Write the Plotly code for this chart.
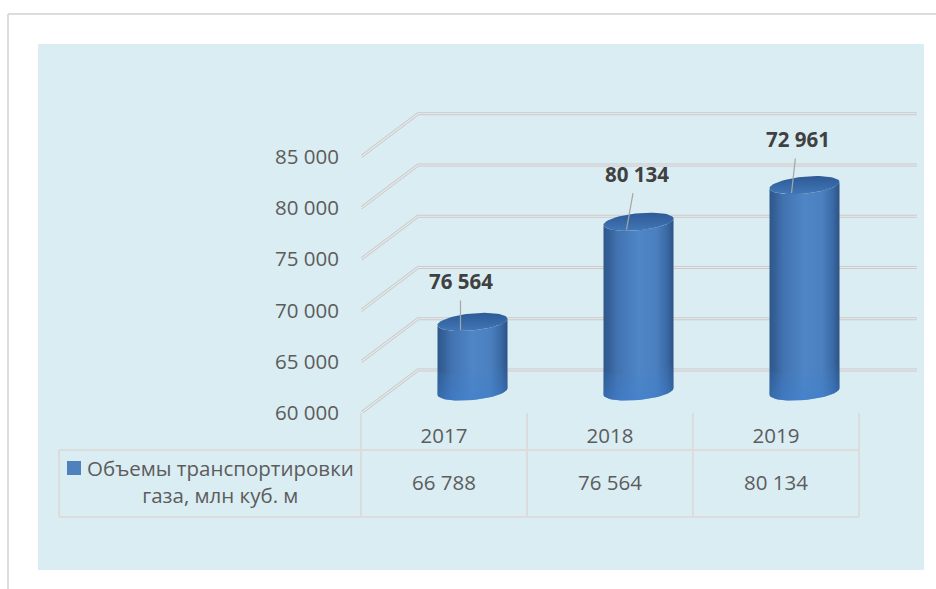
import numpy as np
import plotly.graph_objects as go

# Chart data
years = ["2017", "2018", "2019"]
volumes = [66788, 76564, 80134]
table_labels = ["66 788", "76 564", "80 134"]
callout_labels = ["76 564", "80 134", "72 961"]
tick_values = [60000, 65000, 70000, 75000, 80000, 85000]
tick_labels = ["60 000", "65 000", "70 000", "75 000", "80 000", "85 000"]
series_name = "Объемы транспортировки<br>газа, млн куб. м"

# Page layout in pixels
W, H = 936, 589
PLOT_L, PLOT_R, PLOT_T, PLOT_B = 361, 924, 44, 413
CAT_STEP = 166.0
Y_MIN, Y_MAX = 60000, 96000
PX_PER_VALUE = (PLOT_B - PLOT_T) / (Y_MAX - Y_MIN)
X_MIN = -0.5
X_MAX = X_MIN + (PLOT_R - PLOT_L) / CAT_STEP

# Depth of the pseudo-3D floor, in pixels
DEPTH_X, DEPTH_Y = 57, 43
GRID_END = 917

FONT = "Open Sans"
TEXT = "#5c5c5c"
TEXT_SIZE = 20.5


def dx(px):
    return px / CAT_STEP


def dv(px):
    return px / PX_PER_VALUE


def paper_x(px):
    return (px - PLOT_L) / (PLOT_R - PLOT_L)


def paper_y(px):
    return (PLOT_B - px) / (PLOT_B - PLOT_T)


def paper_line(x0, y0, x1, y1, color="#dcdcdc", width=2):
    return dict(type="line", xref="paper", yref="paper", layer="below",
                x0=paper_x(x0), y0=paper_y(y0), x1=paper_x(x1), y1=paper_y(y1),
                line=dict(color=color, width=width))


fig = go.Figure()

# Gridlines: a diagonal across the floor, then the run along the back wall
for v in tick_values:
    gx = [X_MIN, X_MIN + dx(DEPTH_X), X_MIN + dx(GRID_END - PLOT_L)]
    gy = [v, v + dv(DEPTH_Y), v + dv(DEPTH_Y)]
    fig.add_trace(go.Scatter(x=gx, y=gy, mode="lines", hoverinfo="skip",
                             line=dict(color="#c8cacc", width=3.2), cliponaxis=False))
    fig.add_trace(go.Scatter(x=gx, y=gy, mode="lines", hoverinfo="skip",
                             line=dict(color="#e9ebec", width=1.2), cliponaxis=False))

# Cylinders
HALF_W, CAP_H, TILT = 35, 8.5, 3.2
body_scale = [[0, "#2f5789"], [0.07, "#345f97"], [0.2, "#4273b1"], [0.5, "#4f86c6"],
              [0.75, "#4b80bf"], [0.9, "#3a6ba6"], [1, "#2e5285"]]
cap_scale = [[0, "#4176b5"], [0.5, "#3768a6"], [1, "#2f5a97"]]
foot_scale = [[0, "rgba(62,128,208,0.5)"], [1, "rgba(62,128,208,0)"]]
t = np.linspace(0, 2 * np.pi, 73)
front = np.linspace(0, np.pi, 37)

for i, value in enumerate(volumes):
    cx = i + dx(DEPTH_X / 2)
    base = Y_MIN + dv(DEPTH_Y / 2)
    top = value + dv(DEPTH_Y / 2)

    def rim(angle, level):
        # Tilted ellipse: the right-hand side of the rim sits a little higher
        px_x = HALF_W * np.cos(angle)
        px_y = CAP_H * np.sin(angle) - TILT * np.cos(angle)
        return cx + dx(px_x), level - dv(px_y)

    bx, by = rim(front, base)
    tx, ty = rim(front[::-1], top)
    fig.add_trace(go.Scatter(
        x=np.r_[bx, tx, bx[0]], y=np.r_[by, ty, by[0]], mode="lines", fill="toself",
        hoverinfo="skip", line=dict(width=0), fillcolor="#4f81bd",
        fillgradient=dict(type="horizontal", colorscale=body_scale)))

    fx, fy = rim(front, base + dv(26))
    fx2, fy2 = rim(front[::-1], base)
    fig.add_trace(go.Scatter(
        x=np.r_[fx, fx2, fx[0]], y=np.r_[fy, fy2, fy[0]], mode="lines", fill="toself",
        hoverinfo="skip", line=dict(width=0), fillcolor="rgba(62,128,208,0.3)",
        fillgradient=dict(type="vertical", colorscale=foot_scale)))

    cap_x, cap_y = rim(t, top)
    fig.add_trace(go.Scatter(
        x=cap_x, y=cap_y, mode="lines", fill="toself",
        hoverinfo="skip", line=dict(width=0), fillcolor="#35659f",
        fillgradient=dict(type="vertical", colorscale=cap_scale)))

# Callouts: text plus a leader line ending on the top of each cylinder
callout_geometry = [(-12, 8, 0, -49), (-12, 8, 10, -56), (-13, 8, 6, -54)]
annotations = []
for i, (label, value, geo) in enumerate(zip(callout_labels, volumes, callout_geometry)):
    off_x, off_y, ax, ay = geo
    annotations.append(dict(
        x=i + dx(DEPTH_X / 2 + off_x), y=value + dv(DEPTH_Y / 2 - off_y),
        xref="x", yref="y", text=f"<b>{label}</b>", showarrow=True, arrowhead=0,
        arrowwidth=1.2, arrowcolor="#a6a6a6", ax=ax, ay=ay, startstandoff=4,
        font=dict(family=FONT, size=TEXT_SIZE, color="#404040")))

# Data table values under each category
for i, label in enumerate(table_labels):
    annotations.append(dict(
        x=i, y=paper_y(482), xref="x", yref="paper", xanchor="center", yanchor="middle",
        text=label, showarrow=False, font=dict(family=FONT, size=TEXT_SIZE, color=TEXT)))

# Series name in the first table column
annotations.append(dict(
    x=paper_x(220), y=paper_y(481), xref="paper", yref="paper",
    xanchor="center", yanchor="middle", text=series_name,
    showarrow=False, align="center", font=dict(family=FONT, size=TEXT_SIZE, color=TEXT)))

shapes = [
    # Page frame and tinted panel
    paper_line(8, 14, W, 14),
    paper_line(8, 14, 8, H),
    dict(type="rect", xref="paper", yref="paper", layer="below",
         x0=paper_x(38), x1=paper_x(924), y0=paper_y(570), y1=paper_y(44),
         fillcolor="#daedf3", line=dict(width=0)),
    # Data table rules
    paper_line(59, 450, 859, 450),
    paper_line(59, 517, 859, 517),
    paper_line(59, 450, 59, 517),
    # Legend key
    dict(type="rect", xref="paper", yref="paper", layer="above",
         x0=paper_x(67), x1=paper_x(81), y0=paper_y(475), y1=paper_y(461),
         fillcolor="#4f81bd", line=dict(width=0)),
]
for k in range(len(years) + 1):
    px = PLOT_L + k * CAT_STEP
    shapes.append(paper_line(px, 413, px, 517))

fig.update_layout(
    width=W, height=H, autosize=False, showlegend=False,
    margin=dict(l=PLOT_L, r=W - PLOT_R, t=PLOT_T, b=H - PLOT_B, pad=0),
    paper_bgcolor="white", plot_bgcolor="rgba(0,0,0,0)",
    font=dict(family=FONT, color=TEXT),
    shapes=shapes, annotations=annotations,
    xaxis=dict(range=[X_MIN, X_MAX], tickmode="array", tickvals=list(range(len(years))),
               ticktext=years, showgrid=False, zeroline=False, showline=False, ticks="",
               ticklabelstandoff=8, tickfont=dict(family=FONT, size=TEXT_SIZE, color=TEXT),
               fixedrange=True),
    yaxis=dict(range=[Y_MIN, Y_MAX], tickmode="array", tickvals=tick_values,
               ticktext=tick_labels, showgrid=False, zeroline=False, showline=False,
               ticks="", ticklabelstandoff=21,
               tickfont=dict(family=FONT, size=TEXT_SIZE, color=TEXT), fixedrange=True),
)

fig.write_html("out.html", config={"displayModeBar": False})
